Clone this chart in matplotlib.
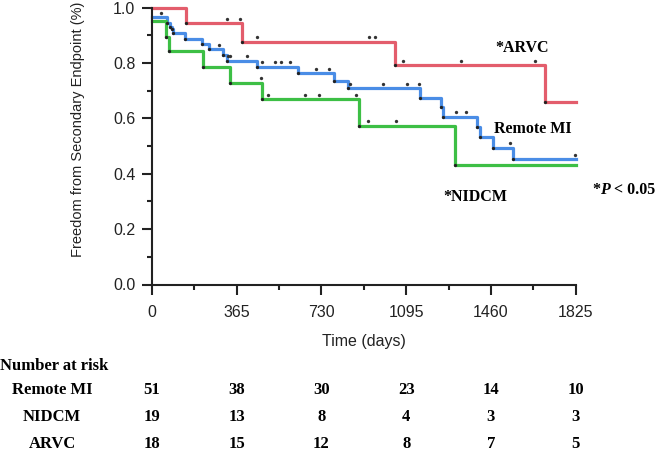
import numpy as np
import matplotlib
matplotlib.use("Agg")
import matplotlib.pyplot as plt
from matplotlib.transforms import ScaledTranslation, blended_transform_factory

# step times (days) and survival after each step
arvc_t = [0, 145, 387, 1048, 1691]
arvc_s = [1.0, 0.944, 0.877, 0.792, 0.66]
arvc_cens = [322, 377, 454, 935, 959, 1080, 1332, 1648]

mi_t = [0, 66, 78, 88, 92, 140, 216, 246, 305, 325, 452, 631, 782, 843,
        1153, 1245, 1252, 1401, 1411, 1467, 1556]
mi_s = [0.965, 0.945, 0.931, 0.921, 0.907, 0.886, 0.868, 0.849, 0.829, 0.808,
        0.786, 0.762, 0.734, 0.708, 0.672, 0.640, 0.606, 0.570, 0.534, 0.494, 0.453]
mi_cens = [40, 290, 329, 336, 411, 472, 530, 554, 596, 706, 763, 851, 995,
           1099, 1150, 1311, 1352, 1544, 1820]

nidcm_t = [0, 59, 73, 221, 334, 475, 890, 1307]
nidcm_s = [0.952, 0.895, 0.842, 0.784, 0.729, 0.669, 0.573, 0.431]
nidcm_cens = [470, 499, 657, 718, 880, 932, 1053]

xticks = [0, 365, 730, 1095, 1460, 1825]
risk_groups = ["Remote MI", "NIDCM", "ARVC"]
risk_mi = [51, 38, 30, 23, 14, 10]
risk_nidcm = [19, 13, 8, 4, 3, 3]
risk_arvc = [18, 15, 12, 8, 7, 5]

sans = "Liberation Sans"
serif = "Liberation Serif"

fig = plt.figure(figsize=(6.55, 4.55), dpi=100)
ax = fig.add_axes([152/655, 1 - 284.5/455, 423.7/655, 277/455])

up = ax.transData + ScaledTranslation(0, 3.2/72, fig.dpi_scale_trans)

def km(t, s, cens, color):
    xs = list(t) + [xticks[-1]]
    ys = list(s) + [s[-1]]
    ax.step(xs, ys, where="post", color=color, lw=2.3, clip_on=False, zorder=2)
    # small dots at each event corner
    ax.plot(t[1:], s[1:], "o", color="#222222", ms=2.4, mew=0, zorder=3, clip_on=False)
    idx = np.searchsorted(t, cens, side="right") - 1
    ax.plot(cens, np.array(s)[idx], "o", color="#333333", ms=2.4, mew=0,
            transform=up, zorder=3, clip_on=False)

km(arvc_t, arvc_s, arvc_cens, "#e35d6c")
km(mi_t, mi_s, mi_cens, "#4a8de6")
km(nidcm_t, nidcm_s, nidcm_cens, "#3dbf45")

ax.set_xlim(0, 1825)
ax.set_ylim(0, 1.0)
for side in ["top", "right"]:
    ax.spines[side].set_visible(False)
for side in ["left", "bottom"]:
    ax.spines[side].set_linewidth(1.5)
    ax.spines[side].set_color("#222222")

ax.set_xticks(xticks)
ax.set_xticks([182.5 + 365*i for i in range(5)], minor=True)
ax.set_yticks([0, 0.2, 0.4, 0.6, 0.8, 1.0])
ax.set_yticks([0.1, 0.3, 0.5, 0.7, 0.9], minor=True)
ax.set_yticklabels(["0.0", "0.2", "0.4", "0.6", "0.8", "1.0"])
ax.tick_params(which="major", length=7, width=1.5, color="#222222")
ax.tick_params(which="minor", length=3.5, width=1.5, color="#222222")
ax.tick_params(axis="x", which="major", pad=8)
ax.tick_params(axis="y", which="major", pad=5)
for lab in ax.get_xticklabels() + ax.get_yticklabels():
    lab.set_fontfamily(sans)
    lab.set_fontsize(11.5)
    lab.set_color("#222222")

ax.set_xlabel("Time (days)", fontfamily=sans, fontsize=11.5, color="#222222")
ax.xaxis.set_label_coords(0.5, -0.18)
ax.set_ylabel("Freedom from Secondary Endpoint (%)", fontfamily=sans, fontsize=10.5,
              color="#222222")
ax.yaxis.set_label_coords(-0.158, 0.56)

# group labels
lab_kw = dict(fontfamily=serif, fontweight="bold", fontsize=11.5, color="black",
              transform=fig.transFigure, va="center")
fig.text(495/655, 1 - 48.5/455, "*ARVC", ha="left", **lab_kw)
fig.text(494/655, 1 - 129/455, "Remote MI", ha="left", **lab_kw)
fig.text(443/655, 1 - 196.7/455, "*NIDCM", ha="left", **lab_kw)
t1 = fig.text(592/655, 1 - 190/455, "*", ha="left", **lab_kw)
t2 = ax.annotate("P", xy=(1, 0), xycoords=t1, va="bottom", ha="left",
                 fontfamily=serif, fontweight="bold", fontstyle="italic", fontsize=11.5)
ax.annotate(" < 0.05", xy=(1, 0), xycoords=t2, va="bottom", ha="left",
            fontfamily=serif, fontweight="bold", fontsize=11.5)

# number at risk table
tb = blended_transform_factory(ax.transData, fig.transFigure)
fig.text(0.0, 1 - 366/455, "Number at risk", ha="left", va="center",
         fontfamily=serif, fontweight="bold", fontsize=12)
for row, (name, vals) in enumerate(zip(risk_groups, [risk_mi, risk_nidcm, risk_arvc])):
    yy = 1 - (390 + 27*row)/455
    fig.text(52/655, yy, name, ha="center", va="center",
             fontfamily=serif, fontweight="bold", fontsize=12)
    for x, v in zip(xticks, vals):
        ax.text(x, yy, str(v), transform=tb, ha="center", va="center",
                fontfamily=serif, fontweight="bold", fontsize=12, clip_on=False)

fig.savefig("out.png", dpi=100)
